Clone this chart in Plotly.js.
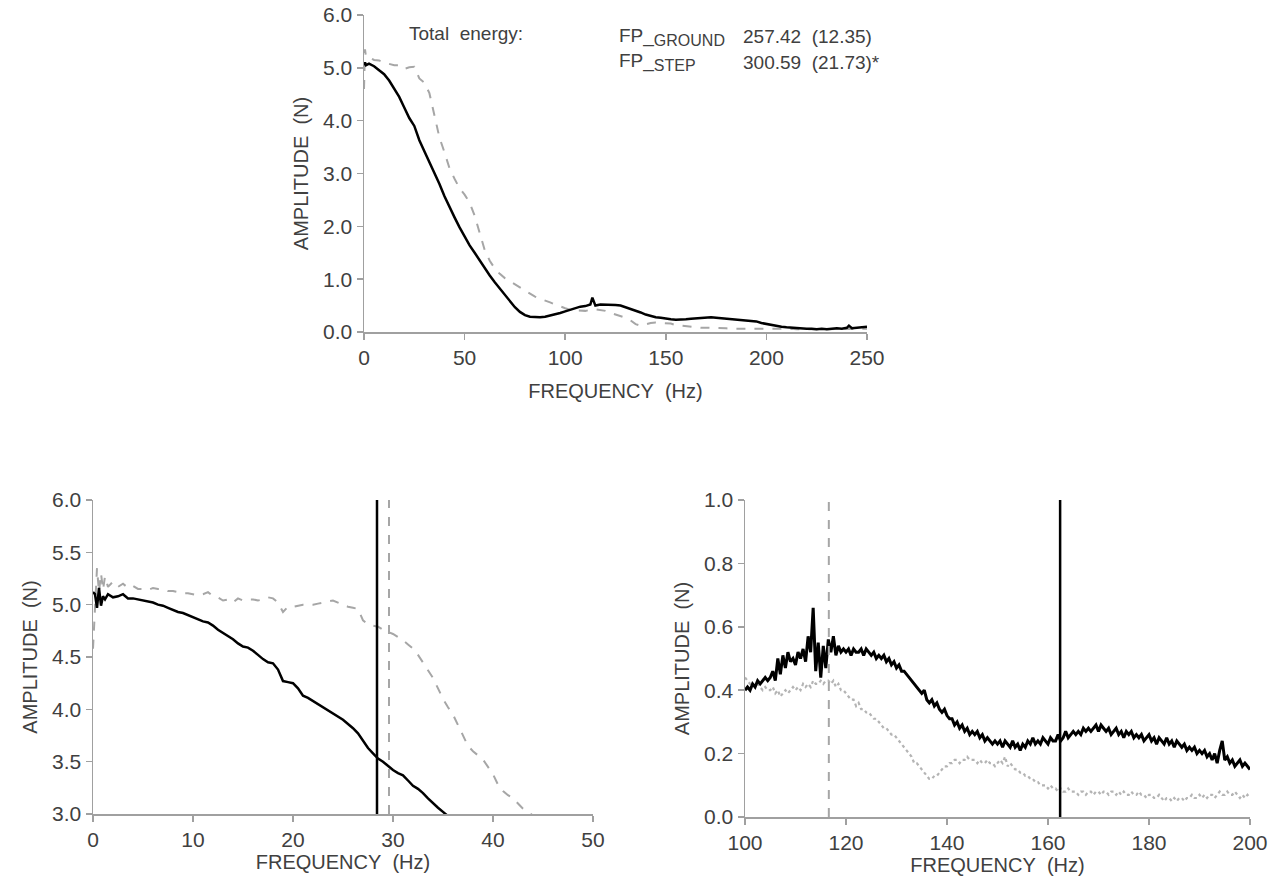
<!DOCTYPE html>
<html>
<head>
<meta charset="utf-8">
<script src="https://cdn.plot.ly/plotly-3.0.1.min.js"></script>
<style>html,body{margin:0;padding:0;background:#fff;}#chart{width:1271px;height:889px;}</style>
</head>
<body>
<div id="chart"></div>
<script>
// ---------- Top panel: full spectrum 0-250 Hz ----------
const topFreq = [0,0.5,1,2.5,5,7.5,10,12.5,15,17.5,20,22.5,25,27.5,30,32.5,35,37.5,40,42.5,45,47.5,50,52.5,55,57.5,60,62.5,65,67.5,70,72.5,75,77.5,80,82.5,85,87.5,90,92.5,95,97.5,100,102.5,105,107.5,110,112.5,113.5,115,117.5,120,122.5,125,127.5,130,132.5,135,137.5,140,142.5,145,147.5,150,152.5,155,157.5,160,162.5,165,167.5,170,172.5,175,177.5,180,182.5,185,187.5,190,192.5,195,197.5,200,202.5,205,207.5,210,212.5,215,217.5,220,222.5,225,227.5,230,232.5,235,237.5,240,241,242.5,245,247.5,250];
const topGround = [5.05,5.1,5.05,
  5.08,5.03,4.96,4.88,4.76,4.6,4.45,4.25,4.05,3.9,
  3.63,3.42,3.22,3.0,2.8,2.57,2.36,2.17,1.98,1.8,
  1.64,1.5,1.35,1.2,1.07,0.94,0.82,0.7,0.58,0.47,
  0.38,0.32,0.29,0.28,0.28,0.29,0.31,0.33,0.36,0.39,
  0.42,0.45,0.48,0.49,0.52,
  0.65,
  0.5,0.52,0.52,0.52,0.51,0.5,0.47,0.44,0.4,0.37,
  0.33,0.3,0.28,0.27,0.25,0.24,0.23,0.23,0.24,0.25,
  0.26,0.27,0.28,0.28,0.27,0.26,0.25,0.24,0.24,0.23,
  0.21,0.2,0.2,0.17,0.15,0.13,0.12,0.1,0.09,0.08,
  0.07,0.07,0.06,0.06,0.05,0.06,0.05,0.06,0.07,0.06,
  0.08,
  0.12,
  0.07,0.08,0.09,0.1];
const topStep = [4.6,5.35,5.2,
  5.2,5.15,5.14,5.1,5.07,5.05,5.05,4.98,5.01,5.02,
  4.8,4.72,4.52,4.1,3.68,3.4,3.1,2.9,2.72,2.6,
  2.45,2.2,1.85,1.55,1.35,1.2,1.1,1.02,0.96,0.9,
  0.84,0.78,0.72,0.67,0.63,0.6,0.56,0.52,0.48,0.45,
  0.42,0.41,0.4,0.4,0.42,
  0.43,
  0.43,0.42,0.4,0.36,0.33,0.3,0.27,0.22,0.15,0.12,
  0.15,0.17,0.18,0.17,0.17,0.16,0.13,0.12,0.1,0.09,
  0.08,0.08,0.08,0.08,0.08,0.07,0.07,0.06,0.06,0.06,
  0.07,0.06,0.07,0.07,0.07,0.06,0.06,0.06,0.05,0.06,
  0.05,0.05,0.06,0.05,0.05,0.06,0.05,0.05,0.06,0.05,
  0.05,
  0.05,
  0.06,0.05,0.06,0.06];

// ---------- Bottom-left panel: 0-50 Hz detail ----------
const blFreq = [0,0.2,0.4,0.6,0.8,1.0,1.2,1.5,2,2.5,3,3.5,4,4.5,5,5.5,6,6.5,7,7.5,8,8.5,9,9.5,10,10.5,11,11.5,12,12.5,13,13.5,14,14.5,15,15.5,16,16.5,17,17.5,18,18.5,19,19.5,20,20.5,21,21.5,22,22.5,23,23.5,24,24.5,25,25.5,26,26.5,27,27.5,28,28.5,29,29.5,30,30.5,31,31.5,32,32.5,33,33.5,34,34.5,35,35.5,36,36.5,37,37.5,38,38.5,39,39.5,40,40.5,41,41.5,42,42.5,43,43.5,44,44.5];
const blStep = [4.58,5.05,5.35,5.12,5.3,5.14,5.27,
  5.17,5.22,5.17,5.2,5.16,5.18,5.15,5.15,5.14,5.16,
  5.15,5.15,5.13,5.13,5.12,5.11,5.11,5.1,5.09,5.1,
  5.12,5.08,5.07,5.04,5.05,5.02,5.06,5.04,5.05,5.05,
  5.04,5.05,5.07,5.06,5.02,4.93,4.98,4.98,4.99,5.0,
  5.0,5.0,5.01,5.02,5.03,5.04,5.02,5.0,4.98,4.97,
  4.96,4.85,4.81,4.8,4.79,4.76,4.74,4.72,4.69,4.66,
  4.62,4.58,4.52,4.45,4.38,4.3,4.2,4.1,4.02,3.95,
  3.85,3.75,3.65,3.6,3.56,3.52,3.45,3.38,3.28,3.22,
  3.18,3.15,3.1,3.05,3.02,2.98,2.95];
const blGround = [5.12,5.1,4.97,5.16,4.99,5.08,5.05,
  5.1,5.07,5.08,5.1,5.06,5.06,5.05,5.04,5.03,5.02,
  5.0,4.99,4.97,4.95,4.93,4.92,4.9,4.88,4.86,4.84,
  4.83,4.8,4.76,4.73,4.7,4.67,4.63,4.6,4.59,4.56,
  4.52,4.48,4.45,4.44,4.38,4.27,4.26,4.25,4.2,4.13,
  4.11,4.08,4.05,4.02,3.99,3.96,3.93,3.9,3.86,3.82,
  3.77,3.7,3.63,3.58,3.53,3.5,3.46,3.42,3.39,3.37,
  3.32,3.27,3.24,3.2,3.15,3.1,3.06,3.02,2.98,2.94];
// vertical markers (Hz): [ground, step]
const blMarkers = [28.4, 29.6];

// ---------- Bottom-right panel: 100-200 Hz detail ----------
const brFreq = [100,100.5,101,101.5,102,102.5,103,103.5,104,104.5,
105,105.5,106,106.5,107,107.5,108,108.5,109,109.5,
110,110.5,111,111.5,112,112.5,113,113.5,114,114.5,
115,115.5,116,116.5,117,117.5,118,118.5,119,119.5,
120,120.5,121,121.5,122,122.5,123,123.5,124,124.5,
125,125.5,126,126.5,127,127.5,128,128.5,129,129.5,
130,130.5,131,131.5,132,132.5,133,133.5,134,134.5,
135,135.5,136,136.5,137,137.5,138,138.5,139,139.5,
140,140.5,141,141.5,142,142.5,143,143.5,144,144.5,
145,145.5,146,146.5,147,147.5,148,148.5,149,149.5,
150,150.5,151,151.5,152,152.5,153,153.5,154,154.5,
155,155.5,156,156.5,157,157.5,158,158.5,159,159.5,
160,160.5,161,161.5,162,162.5,163,163.5,164,164.5,
165,165.5,166,166.5,167,167.5,168,168.5,169,169.5,
170,170.5,171,171.5,172,172.5,173,173.5,174,174.5,
175,175.5,176,176.5,177,177.5,178,178.5,179,179.5,
180,180.5,181,181.5,182,182.5,183,183.5,184,184.5,
185,185.5,186,186.5,187,187.5,188,188.5,189,189.5,
190,190.5,191,191.5,192,192.5,193,193.5,194,194.5,
195,195.5,196,196.5,197,197.5,198,198.5,199,199.5,
200];
const brGround = [0.40,0.41,0.40,0.42,0.41,0.43,0.42,0.43,0.44,0.43,
0.44,0.46,0.43,0.50,0.45,0.51,0.47,0.52,0.49,0.50,
0.48,0.52,0.50,0.53,0.49,0.57,0.52,0.66,0.46,0.55,
0.44,0.54,0.47,0.56,0.52,0.57,0.51,0.54,0.52,0.53,
0.52,0.53,0.51,0.53,0.52,0.52,0.53,0.51,0.53,0.52,
0.51,0.52,0.50,0.51,0.50,0.51,0.49,0.50,0.48,0.49,
0.47,0.48,0.46,0.46,0.45,0.44,0.43,0.42,0.41,0.40,
0.39,0.40,0.37,0.36,0.37,0.35,0.36,0.34,0.33,0.34,
0.32,0.31,0.31,0.29,0.30,0.28,0.29,0.27,0.28,0.26,
0.27,0.26,0.27,0.25,0.26,0.24,0.25,0.24,0.23,0.24,
0.23,0.24,0.22,0.24,0.23,0.22,0.24,0.22,0.23,0.21,
0.23,0.22,0.24,0.23,0.25,0.23,0.24,0.23,0.25,0.24,
0.23,0.25,0.24,0.24,0.26,0.24,0.25,0.27,0.25,0.26,
0.27,0.26,0.27,0.26,0.28,0.27,0.28,0.27,0.28,0.29,
0.27,0.29,0.28,0.27,0.28,0.26,0.27,0.28,0.26,0.27,
0.25,0.27,0.26,0.27,0.25,0.26,0.25,0.26,0.24,0.25,
0.26,0.24,0.25,0.23,0.25,0.24,0.23,0.25,0.23,0.24,
0.22,0.24,0.23,0.22,0.23,0.21,0.22,0.21,0.22,0.20,
0.21,0.20,0.21,0.19,0.20,0.18,0.20,0.17,0.21,0.24,
0.18,0.19,0.17,0.18,0.16,0.17,0.18,0.16,0.17,0.16,
0.15];
const brStep = [0.44,0.43,0.42,0.42,0.41,0.42,0.41,0.40,0.41,0.40,
0.40,0.41,0.39,0.40,0.38,0.39,0.40,0.39,0.40,0.41,
0.40,0.41,0.40,0.42,0.41,0.42,0.41,0.43,0.42,0.42,
0.43,0.42,0.43,0.43,0.42,0.43,0.41,0.42,0.40,0.40,
0.39,0.38,0.37,0.37,0.35,0.36,0.34,0.34,0.33,0.33,
0.32,0.31,0.31,0.30,0.29,0.28,0.28,0.27,0.26,0.26,
0.25,0.24,0.23,0.22,0.21,0.20,0.19,0.17,0.17,0.16,
0.15,0.14,0.13,0.12,0.12,0.13,0.13,0.14,0.15,0.16,
0.16,0.17,0.17,0.18,0.18,0.17,0.18,0.18,0.19,0.18,
0.18,0.18,0.17,0.18,0.17,0.17,0.18,0.17,0.17,0.16,
0.17,0.18,0.17,0.19,0.16,0.17,0.16,0.15,0.15,0.14,
0.14,0.13,0.13,0.12,0.12,0.11,0.11,0.10,0.10,0.10,
0.09,0.10,0.09,0.09,0.08,0.09,0.08,0.08,0.09,0.08,
0.08,0.08,0.07,0.08,0.08,0.07,0.08,0.08,0.07,0.08,
0.08,0.07,0.08,0.08,0.07,0.08,0.08,0.07,0.08,0.07,
0.08,0.07,0.07,0.08,0.07,0.07,0.08,0.07,0.07,0.06,
0.07,0.07,0.06,0.06,0.07,0.06,0.05,0.06,0.06,0.05,
0.06,0.05,0.06,0.06,0.05,0.06,0.06,0.07,0.06,0.06,
0.07,0.06,0.07,0.06,0.07,0.07,0.06,0.07,0.08,0.07,
0.07,0.08,0.07,0.07,0.08,0.07,0.06,0.07,0.06,0.07,
0.06];
// vertical markers (Hz): [step, ground]
const brMarkers = [116.6, 162.4];

// ---------- Total energy text ----------
const energyLabels = ['GROUND', 'STEP'];
const energyMean = ['257.42', '300.59'];
const energySD = ['12.35', '21.73'];
const energySig = ['', '*'];

const BLACK = '#000000';
const GREY = '#a6a6a6';
const LIGHTGREY = '#b4b4b4';
const TXT = '#404040';
const AXIS = '#a0a0a0';
const FAM = 'Liberation Sans, Arial, sans-serif';

const traces = [
  {x: topFreq, y: topStep, xaxis: 'x', yaxis: 'y', mode: 'lines', name: 'FP_STEP',
   line: {color: GREY, width: 2, dash: 'dash'}},
  {x: topFreq, y: topGround, xaxis: 'x', yaxis: 'y', mode: 'lines', name: 'FP_GROUND',
   line: {color: BLACK, width: 2.5}},
  {x: blFreq, y: blStep, xaxis: 'x2', yaxis: 'y2', mode: 'lines', name: 'FP_STEP',
   line: {color: GREY, width: 2, dash: 'dash'}},
  {x: blFreq.slice(0, blGround.length), y: blGround, xaxis: 'x2', yaxis: 'y2', mode: 'lines', name: 'FP_GROUND',
   line: {color: BLACK, width: 2.5}},
  {x: brFreq, y: brStep, xaxis: 'x3', yaxis: 'y3', mode: 'lines', name: 'FP_STEP',
   line: {color: LIGHTGREY, width: 2.2, dash: 'dot'}},
  {x: brFreq, y: brGround, xaxis: 'x3', yaxis: 'y3', mode: 'lines', name: 'FP_GROUND',
   line: {color: BLACK, width: 3}}
];

const shapes = [
  {type: 'line', xref: 'x2', yref: 'y2 domain', x0: blMarkers[0], x1: blMarkers[0], y0: 0, y1: 1,
   line: {color: BLACK, width: 2.5}},
  {type: 'line', xref: 'x2', yref: 'y2 domain', x0: blMarkers[1], x1: blMarkers[1], y0: 0, y1: 1,
   line: {color: GREY, width: 2, dash: 'dash'}},
  {type: 'line', xref: 'x3', yref: 'y3 domain', x0: brMarkers[0], x1: brMarkers[0], y0: 0, y1: 1,
   line: {color: GREY, width: 2, dash: 'dash'}},
  {type: 'line', xref: 'x3', yref: 'y3 domain', x0: brMarkers[1], x1: brMarkers[1], y0: 0, y1: 1,
   line: {color: BLACK, width: 2.5}}
];

const W = 1271, H = 889;
const annFont = {family: FAM, size: 19, color: TXT};
const annotations = [
  {xref: 'paper', yref: 'paper', x: 407 / W, y: 1 - 33 / H, xanchor: 'left', yanchor: 'middle',
   text: 'Total&nbsp; energy:', showarrow: false, font: annFont}
];
energyLabels.forEach((lab, i) => {
  const yy = 1 - (37 + i * 25) / H;
  annotations.push({xref: 'paper', yref: 'paper', x: 617 / W, y: yy, xanchor: 'left', yanchor: 'middle',
    text: 'FP_<sub><span style="font-size:16px">' + lab + '</span></sub>', showarrow: false, font: annFont});
  annotations.push({xref: 'paper', yref: 'paper', x: 741 / W, y: yy, xanchor: 'left', yanchor: 'middle',
    text: energyMean[i] + '&nbsp; (' + energySD[i] + ')' + energySig[i], showarrow: false, font: annFont});
});

function xax(domain, range, dtick, anchor, standoff) {
  return {domain: domain, range: range, dtick: dtick, tick0: range[0], anchor: anchor,
    showline: true, linecolor: AXIS, linewidth: 1.5, ticks: 'outside', ticklen: 6, tickcolor: AXIS, tickwidth: 1.5,
    showgrid: false, zeroline: false, fixedrange: true,
    tickfont: {family: FAM, size: 21, color: TXT},
    title: {text: 'FREQUENCY&nbsp; (Hz)', standoff: standoff, font: {family: FAM, size: 20, color: TXT}}};
}
function yax(domain, range, dtick, anchor, standoff) {
  return {domain: domain, range: range, dtick: dtick, tick0: range[0], anchor: anchor, tickformat: '.1f',
    showline: true, linecolor: AXIS, linewidth: 1.5, ticks: 'outside', ticklen: 6, tickcolor: AXIS, tickwidth: 1.5,
    showgrid: false, zeroline: false, fixedrange: true,
    tickfont: {family: FAM, size: 21, color: TXT},
    title: {text: 'AMPLITUDE&nbsp; (N)', standoff: standoff, font: {family: FAM, size: 20, color: TXT}}};
}

const layout = {
  width: W, height: H,
  margin: {l: 0, r: 0, t: 0, b: 0},
  paper_bgcolor: '#ffffff', plot_bgcolor: '#ffffff',
  showlegend: false,
  font: {family: FAM, color: TXT},
  xaxis: xax([364 / W, 867 / W], [0, 250], 50, 'y', 16),
  yaxis: yax([1 - 332 / H, 1 - 15 / H], [0, 6], 1, 'x', 9),
  xaxis2: xax([93 / W, 593 / W], [0, 50], 10, 'y2', 3),
  yaxis2: yax([1 - 814 / H, 1 - 500 / H], [3, 6], 0.5, 'x2', 9),
  xaxis3: xax([745 / W, 1250 / W], [100, 200], 20, 'y3', 0),
  yaxis3: yax([1 - 817 / H, 1 - 500 / H], [0, 1], 0.2, 'x3', 9),
  shapes: shapes,
  annotations: annotations
};

Plotly.newPlot('chart', traces, layout, {displayModeBar: false, staticPlot: true});
</script>
</body>
</html>
